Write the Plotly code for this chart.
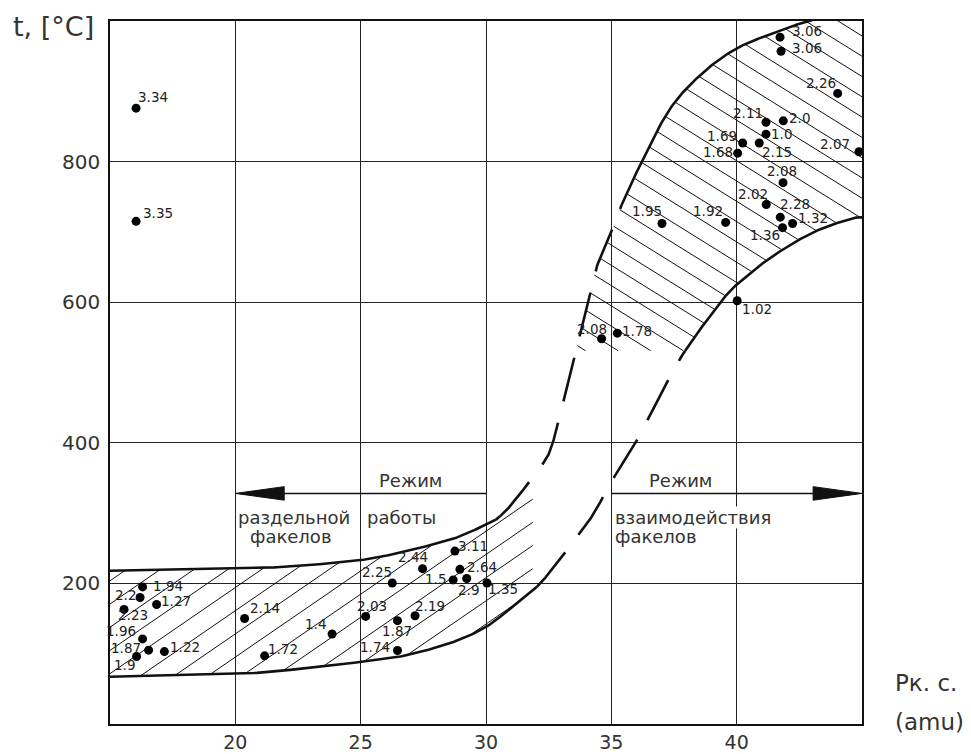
import numpy as np
import plotly.graph_objects as go

# ---------------- data ----------------
pt_labels = ["3.34", "3.35",
             "1.94", "2.2", "1.27", "2.23", "1.96", "1.87", "1.9", "1.22",
             "2.14", "1.72", "1.4", "2.03", "2.25", "2.44", "3.11", "2.64",
             "1.5", "2.9", "1.35", "2.19", "1.87", "1.74",
             "2.08", "1.78", "1.02",
             "1.95", "1.92", "2.02", "2.28", "1.32", "1.36", "2.08",
             "3.06", "3.06", "2.26", "2.11", "2.0", "1.0", "1.69", "2.15",
             "1.68", "2.07"]
pt_x = [16.04, 16.04,
        16.30, 16.20, 16.86, 15.56, 16.30, 16.54, 16.06, 17.17,
        20.37, 21.17, 23.86, 25.20, 26.26, 27.47, 28.76, 28.96,
        28.69, 29.23, 30.04, 27.17, 26.47, 26.47,
        34.61, 35.24, 40.02,
        37.02, 39.56, 41.18, 41.74, 42.23, 41.83, 41.85,
        41.73, 41.77, 44.03, 41.17, 41.86, 41.17, 40.24, 40.90,
        40.04, 44.88]
pt_y = [876, 715,
        195, 180, 170, 163, 121, 105, 96, 103,
        150, 97, 128, 153, 200.5, 221, 246, 220,
        205, 207, 200.5, 154, 147, 104.5,
        548, 556, 602,
        712, 713.5, 739, 721, 712, 706, 770,
        977, 957, 897, 856, 858, 839, 826.5, 826.5,
        812, 814]
# label offsets from their dot (screen pixels, right / down)
label_dx = [17, 22,
            25.7, -15, 19.3, 8.5, -22, -22.7, -11.7, 20.7,
            20.3, 18.7, -17, 6.7, -15, -9.3, 18.3, 21.7,
            -17.3, 1.7, 15.7, 15, -1, -22.7,
            -10, 19.3, 20,
            -15.3, -17.3, -13, 14.7, 20.7, -17.7, -1,
            26.7, 25.7, -17, -17.7, 16.7, 15.7, -21, 17.3,
            -19.3, -24]
label_dy = [-11, -8,
            -1.3, -2.7, -3.3, 5.5, -7.5, -2.5, 8.5, -4.3,
            -10.3, -6.7, -10, -10.7, -10.7, -11.3, -5.3, -2.7,
            -1, 11.3, 6, -10, 10, -4,
            -10, -2.3, 8,
            -12, -11.7, -10.7, -13, -5, 7.3, -11.7,
            -6, -3.3, -10.3, -9.3, -3.3, 0, -7.3, 8.7,
            -1.3, -7.7]

# upper-left S-curve: solid / dashed / solid pieces
A1_x = [15.0, 20.05, 22.58, 25.09, 26.57, 28.16, 28.96, 30.16, 30.556]
A1_y = [218.0, 221.0, 225.0, 233.7, 243.7, 258.0, 267.0, 286.4, 295.4]
A2_x = [30.556, 31.075, 32.19, 32.62, 33.11, 33.35, 34.21, 34.48, 35.05, 35.41]
A2_y = [295.4, 314.9, 366.2, 395.2, 461.7, 494.9, 623.2, 656.5, 704.0, 738.2]
A3_x = [35.41, 36.27, 37.34, 38.53, 39.85, 41.19, 42.79, 43.5]
A3_y = [738.2, 803.8, 875.0, 922.5, 958.0, 979.4, 999.4, 1006.0]

# lower-right S-curve: solid / dashed / solid pieces
B1_x = [15.0, 20.05, 22.58, 25.10, 26.57, 28.56, 30.03, 31.22, 32.02]
B1_y = [67.3, 71.3, 78.4, 88.8, 95.9, 115.0, 138.7, 172.0, 194.8]
B2_x = [32.02, 32.62, 33.77, 34.35, 35.01, 35.81, 36.67, 37.14, 37.94]
B2_y = [194.8, 219.5, 272.6, 302.5, 345.3, 390.5, 447.5, 480.7, 530.6]
B3_x = [37.94, 39.45, 40.26, 41.46, 43.05, 44.52, 45.05]
B3_y = [530.6, 604.2, 632.7, 666.0, 699.3, 718.3, 720.7]

x_ticks = [20, 25, 30, 35, 40]
y_ticks = [200, 400, 600, 800]
x_range = [15, 45]
y_range = [0, 1000]

# hatching parameters
LOW_RIGHT_X = 31.87      # right end of lower band hatching
UP_BOTTOM_Y = 531.0      # bottom end of upper band hatching
LOW_SLOPE, LOW_STEP, LOW_C0 = 24.5, 33.0, 320.0
UP_SLOPE, UP_STEP, UP_X0 = 22.2, 1.3, 37.87

ARROW_Y = 328.0
HEAD_L, HEAD_W = 1.95, 9.6

# ---------------- helpers ----------------
NSEG = 24


def catmull(xs, ys, n=NSEG):
    P = np.column_stack([xs, ys]).astype(float)
    P = np.vstack([2 * P[0] - P[1], P, 2 * P[-1] - P[-2]])
    t = np.linspace(0, 1, n, endpoint=False)[:, None]
    out = []
    for i in range(1, len(P) - 2):
        p0, p1, p2, p3 = P[i - 1], P[i], P[i + 1], P[i + 2]
        seg = 0.5 * (2 * p1 + (-p0 + p2) * t + (2 * p0 - 5 * p1 + 4 * p2 - p3) * t ** 2
                     + (-p0 + 3 * p1 - 3 * p2 + p3) * t ** 3)
        out.append(seg)
    out.append(P[-2][None, :])
    return np.vstack(out)


def build_curve(pieces):
    xs, ys, counts = [], [], []
    for k, (px_, py_) in enumerate(pieces):
        if k == 0:
            xs += list(px_); ys += list(py_)
        else:
            xs += list(px_[1:]); ys += list(py_[1:])
        counts.append(len(px_) - 1)
    D = catmull(xs, ys)
    parts, start = [], 0
    for c in counts:
        parts.append(D[start * NSEG:(start + c) * NSEG + 1])
        start += c
    return D, parts


def inside(px_, py_, poly):
    x = poly[:, 0]; y = poly[:, 1]
    x2 = np.roll(x, -1); y2 = np.roll(y, -1)
    PX = px_[:, None]; PY = py_[:, None]
    cond = (y > PY) != (y2 > PY)
    dy = np.where(np.abs(y2 - y) < 1e-12, 1e-12, y2 - y)
    xint = (x2 - x) * (PY - y) / dy + x
    return np.count_nonzero(cond & (PX < xint), axis=1) % 2 == 1


def hatch(poly, line_funcs, xmin, xmax):
    hx, hy = [], []
    xs = np.linspace(xmin, xmax, 4000)
    for f in line_funcs:
        ys = f(xs)
        m = inside(xs, ys, poly)
        if not m.any():
            continue
        d = np.diff(m.astype(int))
        starts = list(np.where(d == 1)[0] + 1)
        ends = list(np.where(d == -1)[0])
        if m[0]:
            starts = [0] + starts
        if m[-1]:
            ends = ends + [len(m) - 1]
        for s, e in zip(starts, ends):
            if e > s:
                hx += [xs[s], xs[e], None]
                hy += [ys[s], ys[e], None]
    return hx, hy


A_dense, A_parts = build_curve([(A1_x, A1_y), (A2_x, A2_y), (A3_x, A3_y)])
B_dense, B_parts = build_curve([(B1_x, B1_y), (B2_x, B2_y), (B3_x, B3_y)])

# lower band polygon
a_low = A_dense[A_dense[:, 0] <= LOW_RIGHT_X]
b_low = B_dense[B_dense[:, 0] <= LOW_RIGHT_X]
a_end = np.interp(LOW_RIGHT_X, A_dense[:, 0], A_dense[:, 1])
b_end = np.interp(LOW_RIGHT_X, B_dense[:, 0], B_dense[:, 1])
poly_low = np.vstack([a_low, [[LOW_RIGHT_X, a_end]], [[LOW_RIGHT_X, b_end]], b_low[::-1]])

low_lines = [(lambda c: (lambda x: c + LOW_SLOPE * (x - LOW_RIGHT_X)))(LOW_C0 - LOW_STEP * k)
             for k in range(-25, 10)]
hx1, hy1 = hatch(poly_low, low_lines, 15.0, LOW_RIGHT_X + 0.01)

# upper band polygon
a_up = A_dense[A_dense[:, 1] >= UP_BOTTOM_Y]
b_up = B_dense[B_dense[:, 1] >= UP_BOTTOM_Y]
ya = np.interp(UP_BOTTOM_Y, A_dense[:, 1], A_dense[:, 0])
poly_up = np.vstack([[[ya, UP_BOTTOM_Y]], a_up, [[45.0, a_up[-1, 1]]], [[45.0, B_dense[-1, 1]]],
                     b_up[::-1], [[b_up[0, 0], UP_BOTTOM_Y]]])
up_lines = [(lambda x0: (lambda x: UP_BOTTOM_Y - UP_SLOPE * (x - x0)))(UP_X0 + UP_STEP * k)
            for k in range(-20, 40)]
hx2, hy2 = hatch(poly_up, up_lines, 33.0, 45.0)

# ---------------- figure ----------------
fig = go.Figure()
BLACK = "#111111"

fig.add_trace(go.Scatter(x=hx1 + hx2, y=hy1 + hy2, mode="lines",
                         line=dict(color=BLACK, width=1), hoverinfo="skip", showlegend=False))

for parts in (A_parts, B_parts):
    for i, p in enumerate(parts):
        fig.add_trace(go.Scatter(x=p[:, 0], y=p[:, 1], mode="lines",
                                 line=dict(color=BLACK, width=2.6,
                                           dash="solid" if i != 1 else "45px,22px"),
                                 hoverinfo="skip", showlegend=False))

fig.add_trace(go.Scatter(x=pt_x, y=pt_y, mode="markers",
                         marker=dict(color="black", size=9),
                         showlegend=False, cliponaxis=False))

lab_font = dict(family="DejaVu Sans", size=13.5, color="#222222")
annotations = [dict(x=x, y=y, text=t, xref="x", yref="y", showarrow=False,
                    xshift=dx, yshift=-dy, xanchor="center", yanchor="middle", font=lab_font)
               for x, y, t, dx, dy in zip(pt_x, pt_y, pt_labels, label_dx, label_dy)]

shapes = [
    dict(type="line", xref="x", yref="y", x0=20 + HEAD_L * 0.5, x1=30, y0=ARROW_Y, y1=ARROW_Y,
         line=dict(color=BLACK, width=1.5)),
    dict(type="path", xref="x", yref="y",
         path=f"M {20},{ARROW_Y} L {20 + HEAD_L},{ARROW_Y + HEAD_W} L {20 + HEAD_L},{ARROW_Y - HEAD_W} Z",
         fillcolor=BLACK, line=dict(color=BLACK, width=1)),
    dict(type="line", xref="x", yref="y", x0=35, x1=45 - HEAD_L * 0.5, y0=ARROW_Y, y1=ARROW_Y,
         line=dict(color=BLACK, width=1.5)),
    dict(type="path", xref="x", yref="y",
         path=f"M {45},{ARROW_Y} L {45 - HEAD_L},{ARROW_Y + HEAD_W} L {45 - HEAD_L},{ARROW_Y - HEAD_W} Z",
         fillcolor=BLACK, line=dict(color=BLACK, width=1)),
]

tfont = dict(family="DejaVu Sans", size=18, color="#333333")
texts = [
    dict(x=26.97, y=346, text="Режим", xanchor="center", yanchor="middle"),
    dict(x=37.74, y=346, text="Режим", xanchor="center", yanchor="middle"),
    dict(x=20.05, y=293.6, text="раздельной", xanchor="left", yanchor="middle"),
    dict(x=25.2, y=293.6, text="работы", xanchor="left", yanchor="middle"),
    dict(x=20.55, y=266.5, text="факелов", xanchor="left", yanchor="middle"),
    dict(x=35.1, y=293.6, text="взаимодействия", xanchor="left", yanchor="middle", bgcolor="white"),
    dict(x=35.1, y=266.5, text="факелов", xanchor="left", yanchor="middle", bgcolor="white"),
]
for a in texts:
    a.update(xref="x", yref="y", showarrow=False, font=tfont, borderpad=0)
annotations += texts

title_font = dict(family="DejaVu Sans", size=23, color="#333333")
annotations += [
    dict(xref="paper", yref="paper", x=-0.131, y=1.0, xanchor="left", yanchor="top",
         yshift=12, text="t, [°C]", showarrow=False,
         font=dict(family="DejaVu Sans", size=27, color="#333333")),
    dict(xref="paper", yref="paper", x=1.041, y=0.058, xanchor="left", yanchor="middle",
         text="Рк. с.", showarrow=False, font=title_font),
    dict(xref="paper", yref="paper", x=1.041, y=0.003, xanchor="left", yanchor="middle",
         text="(amu)", showarrow=False, font=title_font),
]

axis_common = dict(showgrid=True, gridcolor="#222222", gridwidth=1, zeroline=False,
                   showline=True, linecolor=BLACK, linewidth=1.5, mirror=True,
                   automargin=False, ticks="")

# the page body has an 8px margin: shrink the figure so the plot area lands where the reference has it
fig.update_layout(
    width=963, height=746,
    margin=dict(l=102, r=109, t=13, b=30),
    plot_bgcolor="white", paper_bgcolor="white",
    xaxis=dict(range=x_range, tickvals=x_ticks, ticklabelstandoff=0,
               tickfont=dict(family="DejaVu Sans", size=19, color="#333333"), **axis_common),
    yaxis=dict(range=y_range, tickvals=y_ticks, ticklabelstandoff=4,
               tickfont=dict(family="DejaVu Sans", size=20, color="#333333"), **axis_common),
    shapes=shapes, annotations=annotations,
)

fig.write_html("out.html")
